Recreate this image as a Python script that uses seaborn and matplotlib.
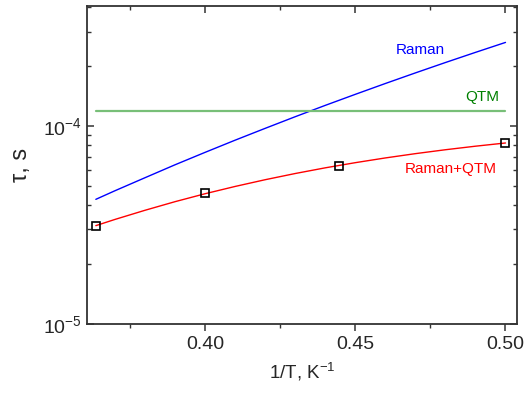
import numpy as np
import pandas as pd
import matplotlib
matplotlib.use("Agg")
import matplotlib.pyplot as plt
import seaborn as sns
from matplotlib.ticker import LogLocator, FixedLocator, NullFormatter

# ---- data ----
inv_T_points = [0.3636, 0.4000, 0.4444, 0.5000]
tau_points = [3.12e-5, 4.57e-5, 6.30e-5, 8.18e-5]

inv_T_curve = [0.3636, 0.37, 0.38, 0.39, 0.40, 0.41, 0.42, 0.43, 0.44,
               0.45, 0.46, 0.47, 0.48, 0.49, 0.50]
tau_raman = [4.26e-5, 4.71e-5, 5.48e-5, 6.37e-5, 7.36e-5, 8.48e-5, 9.73e-5,
             1.114e-4, 1.271e-4, 1.445e-4, 1.639e-4, 1.854e-4, 2.092e-4,
             2.354e-4, 2.643e-4]
tau_qtm = [1.19e-4] * len(inv_T_curve)
tau_total = [3.137e-5, 3.373e-5, 3.752e-5, 4.147e-5, 4.548e-5, 4.950e-5,
             5.353e-5, 5.753e-5, 6.146e-5, 6.526e-5, 6.895e-5, 7.248e-5,
             7.585e-5, 7.904e-5, 8.205e-5]

x_ticks = [0.40, 0.45, 0.50]
x_tick_labels = ["0.40", "0.45", "0.50"]

sns.set_style("ticks")
plt.rcParams["font.family"] = ["Liberation Sans", "DejaVu Sans"]
plt.rcParams["mathtext.fontset"] = "custom"
plt.rcParams["mathtext.rm"] = "Liberation Sans"
plt.rcParams["mathtext.it"] = "Liberation Sans:italic"

curves = pd.DataFrame({"x": inv_T_curve, "raman": tau_raman,
                       "qtm": tau_qtm, "total": tau_total})
pts = pd.DataFrame({"x": inv_T_points, "tau": tau_points})

fig = plt.figure(figsize=(5.28, 3.96), dpi=100)
ax = fig.add_axes([0.165, 0.182, 0.814, 0.803])

sns.lineplot(data=curves, x="x", y="raman", color="#0000ff", lw=1.0, ax=ax)
sns.lineplot(data=curves, x="x", y="qtm", color="#78bf78", lw=1.6, ax=ax)
sns.lineplot(data=curves, x="x", y="total", color="#ff0000", lw=1.0, ax=ax)
ax.plot(pts["x"], pts["tau"], ls="none", marker="s", ms=6.2,
        mfc="none", mec="black", mew=1.2)

ax.set_yscale("log")
ax.set_xlim(0.3607, 0.5038)
ax.set_ylim(1e-5, 4.04e-4)

ax.xaxis.set_major_locator(FixedLocator(x_ticks))
ax.set_xticklabels(x_tick_labels)
ax.xaxis.set_minor_locator(FixedLocator([0.375, 0.425, 0.475]))
ax.yaxis.set_major_locator(LogLocator(base=10, numticks=10))
ax.yaxis.set_minor_locator(LogLocator(base=10, subs=np.arange(2, 10), numticks=20))
ax.yaxis.set_minor_formatter(NullFormatter())

for s in ax.spines.values():
    s.set_visible(True)
    s.set_linewidth(1.3)
    s.set_color("#333333")

ax.tick_params(axis="both", which="major", labelsize=14, width=1.1, length=5,
               color="#333333")
ax.tick_params(axis="both", which="minor", width=1.0, length=3, color="#333333")
ax.tick_params(axis="x", which="both", direction="out", top=True)
ax.tick_params(axis="y", which="both", direction="in", right=True)
# top ticks point inward
for t in ax.xaxis.get_major_ticks() + ax.xaxis.get_minor_ticks():
    t.tick2line.set_marker(3)

ax.set_xlabel("1/T, K$^{-1}$", fontsize=13.5, labelpad=6)
ax.set_ylabel("τ, s", fontsize=17, labelpad=8)

ax.text(0.4717, 2.42e-4, "Raman", color="#0000ff", fontsize=11,
        ha="center", va="center")
ax.text(0.4923, 1.40e-4, "QTM", color="#008000", fontsize=11,
        ha="center", va="center")
ax.text(0.4817, 6.07e-5, "Raman+QTM", color="#ff0000", fontsize=11,
        ha="center", va="center")

fig.savefig("out.png", dpi=100)
